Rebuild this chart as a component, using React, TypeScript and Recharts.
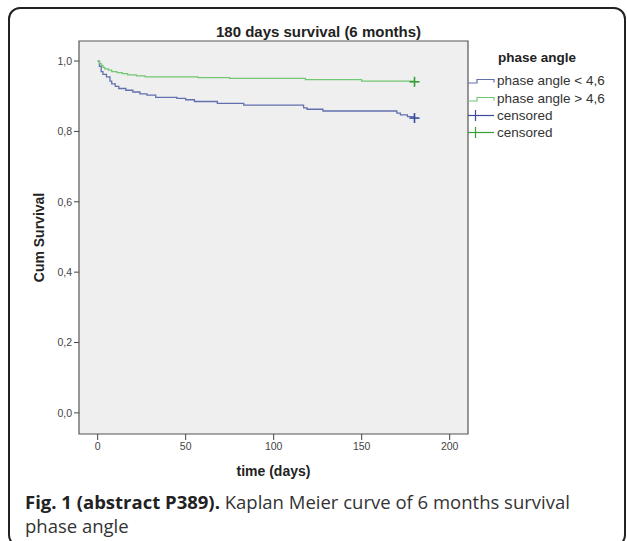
import React from 'react';
import { LineChart, Line, XAxis, YAxis, ReferenceArea, Legend } from 'recharts';

// Kaplan-Meier steps (days, cumulative survival)
const lowDays = [0, 1, 2, 3, 5, 7, 8, 10, 12, 16, 20, 24, 28, 33, 45, 50, 55, 68, 83, 117, 119, 128, 170, 172, 176, 180];
const lowSurv = [1.0, 0.985, 0.97, 0.962, 0.955, 0.943, 0.935, 0.928, 0.922, 0.917, 0.912, 0.907, 0.903, 0.897, 0.894, 0.89, 0.885, 0.88, 0.875, 0.867, 0.863, 0.858, 0.852, 0.847, 0.842, 0.838];

const highDays = [0, 1, 2, 3, 4, 6, 8, 11, 14, 17, 22, 27, 57, 75, 118, 150, 180];
const highSurv = [1.0, 0.993, 0.988, 0.982, 0.978, 0.974, 0.97, 0.967, 0.964, 0.961, 0.958, 0.955, 0.953, 0.951, 0.947, 0.943, 0.941];

const xTicks = [0, 50, 100, 150, 200];
const yTicks = [0, 0.2, 0.4, 0.6, 0.8, 1.0];
const xDomain = [-10.6, 210.4];
const yDomain = [-0.06, 1.057];

const seriesNames = ['phase angle < 4,6', 'phase angle > 4,6'];
const censorLabel = 'censored';

const BLUE = '#6270ad';
const BLUE_DARK = '#3b4a9c';
const GREEN = '#72c872';
const GREEN_DARK = '#35a035';

const lowData = lowDays.map((t, i) => ({ t, s: lowSurv[i] }));
const highData = highDays.map((t, i) => ({ t, s: highSurv[i] }));

const FONT = '"Liberation Sans", Arial, sans-serif';

const censorDot = (color: string, last: number) => (p: any) => {
    if (p.index !== last) return <g key={`d-${p.index}`} />;
    return (
        <g key={`d-${p.index}`} stroke={color} strokeWidth={1.6}>
            <line x1={p.cx - 5} x2={p.cx + 5} y1={p.cy} y2={p.cy} />
            <line x1={p.cx} x2={p.cx} y1={p.cy - 5} y2={p.cy + 5} />
        </g>
    );
};

const StepIcon = ({ color }: { color: string }) => (
    <svg width={30} height={17} style={{ display: 'block' }}>
        <path d="M2 11 H11 V7.5 H28 V10.5" fill="none" stroke={color} strokeWidth={1.2} />
    </svg>
);

const CensorIcon = ({ color }: { color: string }) => (
    <svg width={30} height={17} style={{ display: 'block' }}>
        <line x1={2} x2={28} y1={8.5} y2={8.5} stroke={color} strokeWidth={1.2} />
        <line x1={9.5} x2={9.5} y1={3} y2={14} stroke={color} strokeWidth={1.2} />
    </svg>
);

const KmLegend = () => {
    const rows = [
        { icon: <StepIcon color={BLUE} />, label: seriesNames[0] },
        { icon: <StepIcon color={GREEN} />, label: seriesNames[1] },
        { icon: <CensorIcon color={BLUE_DARK} />, label: censorLabel },
        { icon: <CensorIcon color={GREEN_DARK} />, label: censorLabel },
    ];
    return (
        <div style={{ fontFamily: FONT, color: '#333' }}>
            <div style={{ fontWeight: 'bold', fontSize: 13.5, color: '#222', marginLeft: 32, height: 26, lineHeight: '24px' }}>phase angle</div>
            {rows.map((r, i) => (
                <div key={i} style={{ display: 'flex', alignItems: 'center', height: 17.4 }}>
                    {r.icon}
                    <span style={{ fontSize: 13.5, marginLeft: 1, whiteSpace: 'nowrap' }}>{r.label}</span>
                </div>
            ))}
        </div>
    );
};

const App: React.FC = () => {
    const fmt = (v: number) => v.toFixed(1).replace('.', ',');
    return (
        <div style={{ position: 'fixed', left: 0, top: 0, width: 627, height: 541, overflow: 'hidden', background: '#fff' }}>
            <div
                style={{
                    position: 'absolute', left: 8, top: 7, width: 618, height: 540,
                    border: '2px solid #222', borderRadius: 12, boxSizing: 'border-box',
                }}
            />
            <div
                style={{
                    position: 'absolute', left: 0, width: 637, top: 23, textAlign: 'center',
                    fontFamily: FONT, fontWeight: 'bold', fontSize: 15, color: '#222',
                }}
            >
                180 days survival (6 months)
            </div>
            <div style={{ position: 'absolute', left: 0, top: 0 }}>
                <LineChart width={627} height={480} margin={{ top: 41, right: 9, bottom: 16, left: 49 }}>
                    <ReferenceArea
                        x1={xDomain[0]} x2={xDomain[1]} y1={yDomain[0]} y2={yDomain[1]}
                        fill="#efefef" fillOpacity={1} stroke="#555" strokeWidth={1.2} ifOverflow="visible"
                    />
                    <XAxis
                        dataKey="t" type="number" domain={xDomain} ticks={xTicks}
                        allowDataOverflow tickSize={6} tickMargin={3} axisLine={false}
                        tick={{ fontSize: 10.5, fill: '#444', fontFamily: FONT }}
                        tickLine={{ stroke: '#444' }} height={30}
                        label={{ value: 'time (days)', position: 'insideBottom', offset: -12, fontWeight: 'bold', fontSize: 14, fill: '#222', fontFamily: FONT }}
                    />
                    <YAxis
                        type="number" domain={yDomain} ticks={yTicks} allowDataOverflow
                        tickFormatter={fmt} tickSize={5} axisLine={false} width={30}
                        tick={{ fontSize: 10.5, fill: '#444', fontFamily: FONT }}
                        tickLine={{ stroke: '#444' }}
                        label={{ value: 'Cum Survival', angle: -90, position: 'insideLeft', offset: -10, textAnchor: 'middle', fontWeight: 'bold', fontSize: 14, fill: '#222', fontFamily: FONT }}
                    />
                    <Legend
                        layout="vertical" align="right" verticalAlign="top"
                        wrapperStyle={{ left: 466, top: 46, width: 150 }}
                        content={<KmLegend />}
                    />
                    <Line
                        data={lowData} dataKey="s" name={seriesNames[0]} type="stepAfter"
                        stroke={BLUE} strokeWidth={1.3} dot={censorDot(BLUE_DARK, lowData.length - 1)}
                        isAnimationActive={false}
                    />
                    <Line
                        data={highData} dataKey="s" name={seriesNames[1]} type="stepAfter"
                        stroke={GREEN} strokeWidth={1.3} dot={censorDot(GREEN_DARK, highData.length - 1)}
                        isAnimationActive={false}
                    />
                </LineChart>
            </div>
            <div
                style={{
                    position: 'absolute', left: 25, top: 490, width: 595,
                    fontFamily: '"Open Sans", "Noto Sans", sans-serif', fontSize: 18.5, lineHeight: '24px', color: '#333',
                }}
            >
                <span style={{ fontWeight: 'bold', color: '#222' }}>Fig. 1 (abstract P389).</span> Kaplan Meier curve of 6 months survival
                <br />
                phase angle
            </div>
        </div>
    );
};

export default App;
